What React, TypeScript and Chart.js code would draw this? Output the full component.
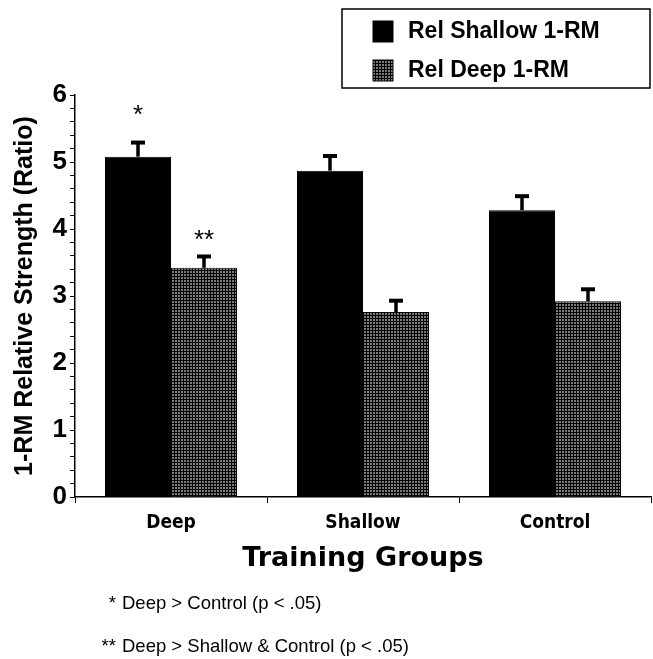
import React, { useEffect, useRef } from 'react';
import { Chart, registerables } from 'chart.js';

Chart.register(...registerables);

const categories = ['Deep', 'Shallow', 'Control'];
const seriesLabels = ['Rel Shallow 1-RM', 'Rel Deep 1-RM'];
const relShallow = [5.08, 4.87, 4.28];
const relShallowErr = [0.21, 0.22, 0.21];
const relDeep = [3.42, 2.76, 2.92];
const relDeepErr = [0.17, 0.17, 0.18];
const yMin = 0;
const yMax = 6;
const yStep = 0.2;
const xTitle = 'Training Groups';
const yTitle = '1-RM Relative Strength (Ratio)';
const sigMarks = [
  { dataset: 0, index: 0, text: '*', at: 5.58 },
  { dataset: 1, index: 0, text: '**', at: 3.71 },
];
const footMarks = ['*', '**'];
const footTexts = ['Deep > Control (p < .05)', 'Deep > Shallow & Control (p < .05)'];

const SANS = "'Liberation Sans', Arial, sans-serif";
const WIDE = "'DejaVu Sans', 'Liberation Sans', sans-serif";
const COND = "'DejaVu Sans Condensed', 'Liberation Sans Narrow', sans-serif";

function makePattern(): CanvasPattern | string {
  const c = document.createElement('canvas');
  c.width = 3;
  c.height = 3;
  const g = c.getContext('2d');
  if (!g) return '#3c3c3c';
  g.fillStyle = '#000';
  g.fillRect(0, 0, 3, 3);
  g.fillStyle = '#7a7a7a';
  g.fillRect(1, 1, 2, 2);
  const p = g.createPattern(c, 'repeat');
  return p || '#3c3c3c';
}

const errors = [relShallowErr, relDeepErr];

const errorBarPlugin = {
  id: 'errorBars',
  afterDatasetsDraw(chart: any) {
    const ctx = chart.ctx;
    const yScale = chart.scales.y;
    ctx.save();
    ctx.strokeStyle = '#000';
    chart.data.datasets.forEach((ds: any, di: number) => {
      const meta = chart.getDatasetMeta(di);
      meta.data.forEach((bar: any, i: number) => {
        const v = ds.data[i];
        const top = yScale.getPixelForValue(v + errors[di][i]);
        ctx.lineWidth = 3.5;
        ctx.beginPath();
        ctx.moveTo(bar.x, bar.y);
        ctx.lineTo(bar.x, top);
        ctx.stroke();
        ctx.lineWidth = 4;
        ctx.beginPath();
        ctx.moveTo(bar.x - 7, top);
        ctx.lineTo(bar.x + 7, top);
        ctx.stroke();
      });
    });
    ctx.fillStyle = '#000';
    ctx.font = `26px ${SANS}`;
    ctx.textAlign = 'center';
    ctx.textBaseline = 'alphabetic';
    sigMarks.forEach((m) => {
      const bar = chart.getDatasetMeta(m.dataset).data[m.index] as any;
      ctx.fillText(m.text, bar.x, yScale.getPixelForValue(m.at));
    });
    ctx.restore();
  },
};

const legendFootPlugin = {
  id: 'legendFoot',
  afterDraw(chart: any) {
    const ctx = chart.ctx;
    ctx.save();
    ctx.strokeStyle = '#000';
    ctx.lineWidth = 1.5;
    ctx.strokeRect(342, 9, 308, 79);
    ctx.font = `bold 23px ${SANS}`;
    ctx.textAlign = 'left';
    ctx.textBaseline = 'middle';
    const rows = [31, 70];
    chart.data.datasets.forEach((ds: any, i: number) => {
      const cy = rows[i];
      ctx.fillStyle = ds.backgroundColor;
      ctx.fillRect(373, cy - 10, 20, 21);
      ctx.strokeStyle = '#000';
      ctx.lineWidth = 1;
      ctx.strokeRect(373, cy - 10, 20, 21);
      ctx.fillStyle = '#000';
      ctx.fillText(ds.label, 408, cy + 1);
    });
    ctx.font = `18.5px ${SANS}`;
    ctx.textBaseline = 'alphabetic';
    const baselines = [609, 652];
    footTexts.forEach((t, i) => {
      ctx.textAlign = 'right';
      ctx.fillText(footMarks[i], 116, baselines[i]);
      ctx.textAlign = 'left';
      ctx.fillText(t, 122, baselines[i]);
    });
    ctx.restore();
  },
};

export default function App() {
  const ref = useRef<HTMLCanvasElement | null>(null);
  useEffect(() => {
    document.body.style.margin = '0';
    const canvas = ref.current;
    if (!canvas) return;
    const pattern = makePattern();
    const chart = new Chart(canvas, {
      type: 'bar',
      data: {
        labels: categories,
        datasets: [
          {
            label: seriesLabels[0],
            data: relShallow,
            backgroundColor: '#000',
            borderColor: '#000',
            borderWidth: 1,
            categoryPercentage: 0.6875,
            barPercentage: 1,
          },
          {
            label: seriesLabels[1],
            data: relDeep,
            backgroundColor: pattern as any,
            borderColor: '#000',
            borderWidth: 1,
            categoryPercentage: 0.6875,
            barPercentage: 1,
          },
        ],
      },
      options: {
        responsive: false,
        animation: false,
        layout: { padding: { top: 95, left: 0, right: 2, bottom: 84 } },
        plugins: {
          legend: { display: false },
          tooltip: { enabled: false },
        },
        scales: {
          x: {
            type: 'category',
            grid: { drawOnChartArea: false, tickLength: 6, color: '#000', offset: true },
            border: { display: true, color: '#000', width: 1.5 },
            ticks: {
              color: '#000',
              padding: 9,
              font: { family: COND, weight: 'bold', size: 19 },
            },
            title: {
              display: true,
              text: xTitle,
              color: '#000',
              padding: { top: 0, bottom: 0 },
              font: { family: WIDE, weight: 'bold', size: 27 },
            },
            afterFit(scale: any) {
              scale.height = 78;
            },
          },
          y: {
            min: yMin,
            max: yMax,
            grid: { drawOnChartArea: false, tickLength: 5, color: '#000' },
            border: { display: true, color: '#000', width: 1.5 },
            ticks: {
              stepSize: yStep,
              autoSkip: false,
              color: '#000',
              padding: 3,
              font: { family: SANS, weight: 'bold', size: 26 },
              callback: (v: any) => {
                const n = Number(v);
                return Math.abs(n - Math.round(n)) < 1e-6 ? String(Math.round(n)) : '';
              },
            },
            title: {
              display: true,
              text: yTitle,
              color: '#000',
              padding: { top: 10, bottom: 0 },
              font: { family: SANS, weight: 'bold', size: 25 },
            },
            afterFit(scale: any) {
              scale.width = 75;
            },
          },
        },
      },
      plugins: [errorBarPlugin, legendFootPlugin],
    });
    return () => chart.destroy();
  }, []);
  return <canvas ref={ref} width={653} height={659} style={{ display: 'block' }} />;
}
